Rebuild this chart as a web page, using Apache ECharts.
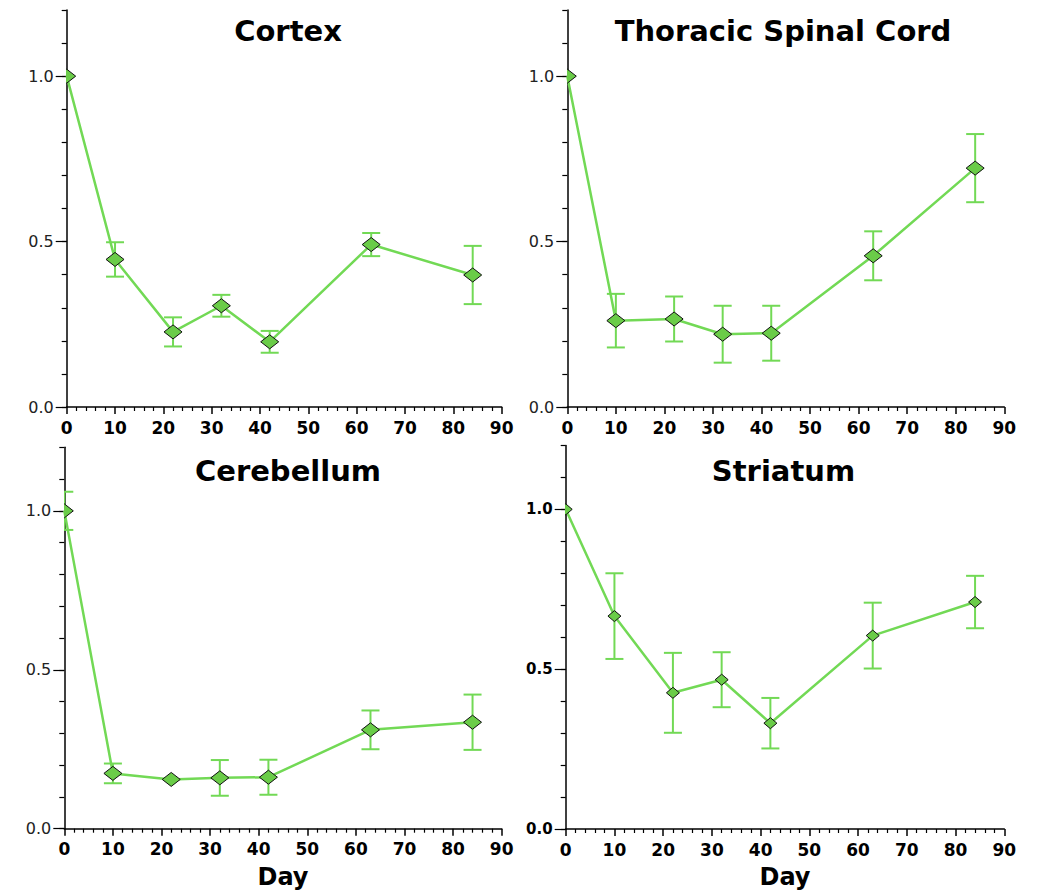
<!DOCTYPE html>
<html>
<head>
<meta charset="utf-8">
<script src="https://cdn.jsdelivr.net/npm/echarts@6/dist/echarts.min.js"></script>
<style>
  html, body { margin: 0; padding: 0; background: #fff; }
  #chart { width: 1040px; height: 893px; }
</style>
</head>
<body>
<div id="chart"></div>
<script>
// ---- Data ----
const days = [0, 10, 22, 32, 42, 63, 84];
const panelTitles = ['Cortex', 'Thoracic Spinal Cord', 'Cerebellum', 'Striatum'];
const xTickLabels = [0, 10, 20, 30, 40, 50, 60, 70, 80, 90];
const yTickLabels = [0.0, 0.5, 1.0];
const xAxisTitle = 'Day';

const cortexMean = [1.0, 0.446, 0.227, 0.306, 0.197, 0.491, 0.399];
const cortexErr  = [0, 0.052, 0.044, 0.033, 0.033, 0.035, 0.088];
const thoracicMean = [1.0, 0.261, 0.266, 0.220, 0.223, 0.457, 0.722];
const thoracicErr  = [0, 0.081, 0.068, 0.086, 0.083, 0.074, 0.103];
const cerebellumMean = [1.0, 0.174, 0.155, 0.160, 0.162, 0.311, 0.335];
const cerebellumErr  = [0.06, 0.031, 0, 0.056, 0.055, 0.061, 0.087];
const striatumMean = [1.0, 0.666, 0.426, 0.467, 0.331, 0.605, 0.710];
const striatumErr  = [0, 0.134, 0.125, 0.086, 0.079, 0.103, 0.082];

const means = [cortexMean, thoracicMean, cerebellumMean, striatumMean];
const errs = [cortexErr, thoracicErr, cerebellumErr, striatumErr];

// ---- Layout / style ----
const FONT = '"DejaVu Sans", "Liberation Sans", sans-serif';
const LINE_GREEN = '#72d955';
const FILL_GREEN = '#6acc48';
const grids = [
  { left: 66.7, top: 10, width: 435, height: 397 },
  { left: 567.3, top: 10, width: 437, height: 397 },
  { left: 64.3, top: 447.3, width: 437.4, height: 381.4 },
  { left: 565.7, top: 445.4, width: 438.6, height: 383.6 }
];
const titleCenters = [[288, 16], [783, 16], [288, 456], [783.5, 456]];
const markerSize = [[18, 14], [18, 14], [18, 14], [13, 11]];
const yBold = [false, false, false, true];
const showDay = [false, false, true, true];

function makeRender(mw, mh) {
  return function (params, api) {
    const x = api.value(0), m = api.value(1), e = api.value(2);
    const c = api.coord([x, m]);
    const children = [];
    if (e > 0) {
      const hi = api.coord([x, m + e]);
      const lo = api.coord([x, m - e]);
      const cap = 9;
      const st = { stroke: LINE_GREEN, lineWidth: 2 };
      children.push({ type: 'line', shape: { x1: c[0], y1: hi[1], x2: c[0], y2: lo[1] }, style: st });
      children.push({ type: 'line', shape: { x1: c[0] - cap, y1: hi[1], x2: c[0] + cap, y2: hi[1] }, style: st });
      children.push({ type: 'line', shape: { x1: c[0] - cap, y1: lo[1], x2: c[0] + cap, y2: lo[1] }, style: st });
    }
    children.push({
      type: 'polygon',
      shape: { points: [[c[0], c[1] - mh / 2], [c[0] + mw / 2, c[1]], [c[0], c[1] + mh / 2], [c[0] - mw / 2, c[1]]] },
      style: { fill: FILL_GREEN, stroke: '#111', lineWidth: 1 }
    });
    return { type: 'group', children: children };
  };
}

const option = { animation: false, backgroundColor: '#fff', grid: [], xAxis: [], yAxis: [], series: [], graphic: [] };

for (let i = 0; i < 4; i++) {
  option.grid.push(Object.assign({ containLabel: false }, grids[i]));
  option.xAxis.push({
    type: 'value', gridIndex: i, min: 0, max: 90, interval: 10, position: 'bottom',
    name: showDay[i] ? xAxisTitle : '', nameLocation: 'middle', nameGap: 36,
    nameTextStyle: { fontFamily: FONT, fontWeight: 'bold', fontSize: 24, color: '#000' },
    axisLine: { show: true, onZero: false, lineStyle: { color: '#000', width: 1.5 } },
    axisTick: { show: true, length: 7, lineStyle: { color: '#000', width: 1.5 } },
    minorTick: { show: true, splitNumber: 5, length: 4, lineStyle: { color: '#000', width: 1.2 } },
    splitLine: { show: false }, minorSplitLine: { show: false },
    axisLabel: {
      margin: 12, fontFamily: FONT, fontWeight: 'bold', fontSize: 17, color: '#000',
      formatter: function (v) { return xTickLabels.indexOf(v) >= 0 ? String(v) : ''; }
    }
  });
  // minor ticks axis (every 0.1) with the axis line
  option.yAxis.push({
    type: 'value', gridIndex: i, min: 0, max: 1.2, interval: 0.1, position: 'left', offset: 0,
    axisLine: { show: true, onZero: false, lineStyle: { color: '#000', width: 1.5 } },
    axisTick: { show: true, length: 5, lineStyle: { color: '#000', width: 1.2 } },
    splitLine: { show: false },
    axisLabel: { show: false }
  });
  // major ticks + labels
  option.yAxis.push({
    type: 'value', gridIndex: i, min: 0, max: 1.2, interval: 0.5, position: 'left', offset: 0,
    axisLine: { show: false, onZero: false },
    axisTick: { show: true, length: 11, customValues: yTickLabels, lineStyle: { color: '#000', width: 1.2 } },
    splitLine: { show: false },
    axisLabel: {
      show: true, margin: 13, customValues: yTickLabels,
      fontFamily: FONT, fontSize: yBold[i] ? 15 : 16, fontWeight: yBold[i] ? 'bold' : 'normal',
      color: yBold[i] ? '#000' : '#222',
      formatter: function (v) { return v.toFixed(1); }
    }
  });
  const lineData = days.map((d, k) => [d, means[i][k]]);
  const errData = days.map((d, k) => [d, means[i][k], errs[i][k]]);
  option.series.push({
    type: 'line', name: panelTitles[i], xAxisIndex: i, yAxisIndex: 2 * i,
    data: lineData, showSymbol: false, symbol: 'none',
    lineStyle: { color: LINE_GREEN, width: 2.5 }, clip: true, z: 2
  });
  option.series.push({
    type: 'custom', name: panelTitles[i] + ' markers', xAxisIndex: i, yAxisIndex: 2 * i,
    data: errData, clip: true, z: 3,
    encode: { x: 0, y: 1 },
    renderItem: makeRender(markerSize[i][0], markerSize[i][1])
  });
  option.graphic.push({
    type: 'text', x: titleCenters[i][0], y: titleCenters[i][1],
    style: { text: panelTitles[i], fill: '#000', font: 'bold 29px ' + FONT, textAlign: 'center', textVerticalAlign: 'top' }
  });
}

const chart = echarts.init(document.getElementById('chart'), null, { renderer: 'svg' });
chart.setOption(option);
</script>
</body>
</html>
